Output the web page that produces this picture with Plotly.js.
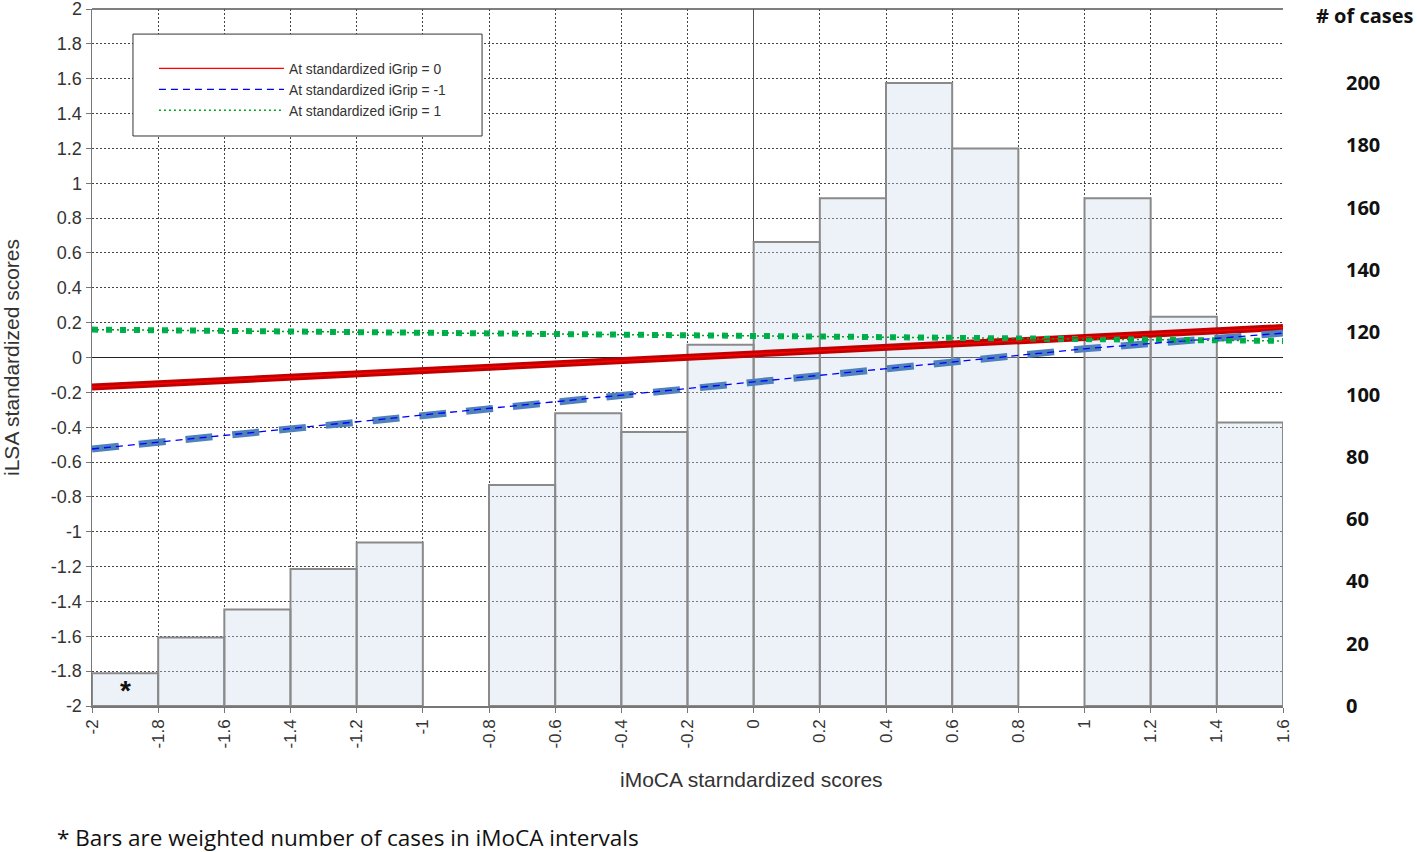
<!DOCTYPE html>
<html>
<head>
<meta charset="utf-8">
<script src="https://cdn.plot.ly/plotly-3.0.1.min.js"></script>
<style>
html,body{margin:0;padding:0;background:#fff;}
#chart{width:1417px;height:852px;}
</style>
</head>
<body>
<div id="chart"></div>
<script>
// Histogram: iMoCA intervals (bin centres) and weighted number of cases
const binCenters = [-1.9,-1.7,-1.5,-1.3,-1.1,-0.9,-0.7,-0.5,-0.3,-0.1,0.1,0.3,0.5,0.7,0.9,1.1,1.3,1.5];
const binCases   = [10.5,22,31,44,52.5,null,71,94,88,116,149,163,200,179,null,163,125,91];

// Predicted iLSA standardized scores along iMoCA
const lineX      = [-2,-1,0,1,1.6];
const grip0      = [-0.17,-0.075,0.02,0.115,0.172];
const gripMinus1 = [-0.525,-0.33,-0.14,0.05,0.14];
const gripPlus1  = [0.16,0.142,0.124,0.106,0.095];

const legendNames = ['At standardized iGrip = 0','At standardized iGrip = -1','At standardized iGrip = 1'];
const xTicks = [-2,-1.8,-1.6,-1.4,-1.2,-1,-0.8,-0.6,-0.4,-0.2,0,0.2,0.4,0.6,0.8,1,1.2,1.4,1.6];
const leftTicks = [-2,-1.8,-1.6,-1.4,-1.2,-1,-0.8,-0.6,-0.4,-0.2,0,0.2,0.4,0.6,0.8,1,1.2,1.4,1.6,1.8,2];
const rightTicks = [0,20,40,60,80,100,120,140,160,180,200];

const traces = [
  {type:'bar', x:binCenters, y:binCases, width:0.2, xaxis:'x', yaxis:'y',
   marker:{color:'rgba(205,220,236,0.36)', line:{color:'#8a8a8a', width:2}},
   showlegend:false, hoverinfo:'skip'},
  // thick lines
  {type:'scatter', mode:'lines', x:lineX, y:grip0, yaxis:'y2', showlegend:false,
   line:{color:'#c00000', width:7}},
  {type:'scatter', mode:'lines', x:lineX, y:gripMinus1, yaxis:'y2', showlegend:false,
   line:{color:'#4f81bd', width:7, dash:'27px,20px'}},
  {type:'scatter', mode:'lines', x:lineX, y:gripPlus1, yaxis:'y2', showlegend:false,
   line:{color:'#00b050', width:6, dash:'6px,8px'}},
  // thin lines (legend)
  {type:'scatter', mode:'lines', x:lineX, y:grip0, yaxis:'y2', name:legendNames[0],
   line:{color:'#ff0000', width:1.3}},
  {type:'scatter', mode:'lines', x:lineX, y:gripMinus1, yaxis:'y2', name:legendNames[1],
   line:{color:'#0000ff', width:1.3, dash:'7px,5px'}},
  {type:'scatter', mode:'lines', x:lineX, y:gripPlus1, yaxis:'y2', name:legendNames[2],
   line:{color:'#00a020', width:1.5, dash:'2px,3px'}}
];

const axFont = {family:'Liberation Sans, Arial, sans-serif', size:17, color:'#333'};
const yFont = {family:'Liberation Sans, Arial, sans-serif', size:18, color:'#333'};

const layout = {
  width:1417, height:852,
  margin:{l:92, r:134, t:9, b:146},
  paper_bgcolor:'#fff', plot_bgcolor:'#fff',
  showlegend:true,
  bargap:0,
  legend:{x:0.052, y:0.937, xanchor:'left', yanchor:'top', bgcolor:'rgba(0,0,0,0)',
    borderwidth:0, itemwidth:125, tracegroupgap:0,
    font:{family:'Liberation Sans, Arial, sans-serif', size:13.8, color:'#333'}},
  xaxis:{range:[-2,1.6], tickvals:xTicks, ticktext:xTicks.map(String), tickangle:-90,
    tickfont:axFont, showgrid:true, gridcolor:'#444', griddash:'2px,2px', gridwidth:1,
    zeroline:true, zerolinecolor:'#555', zerolinewidth:1.3, ticklabeloverflow:'allow',
    showline:true, linecolor:'#777', linewidth:1.5, ticks:'outside', ticklen:5, tickcolor:'#777',
    fixedrange:true},
  yaxis:{range:[0,223.8], side:'right', tickvals:rightTicks, ticktext:rightTicks.map(String),
    showgrid:false, zeroline:false, showline:false, ticks:'', ticklabelstandoff:62,
    tickfont:{family:'Open Sans, Noto Sans, sans-serif', size:20, color:'#111', weight:'bold'},
    fixedrange:true},
  yaxis2:{range:[-2,2], overlaying:'y', side:'left', anchor:'x',
    tickvals:leftTicks, ticktext:leftTicks.map(String), tickfont:yFont, ticklabeloverflow:'allow',
    showgrid:true, gridcolor:'#444', griddash:'2px,2px', gridwidth:1,
    zeroline:true, zerolinecolor:'#222', zerolinewidth:1,
    showline:true, linecolor:'#777', linewidth:1.5, ticks:'outside', ticklen:5, tickcolor:'#777',
    title:{text:'iLSA standardized scores', font:{family:'Liberation Sans, Arial, sans-serif', size:21, color:'#333'}, standoff:26},
    fixedrange:true},
  shapes:[
    {type:'line', xref:'paper', yref:'paper', x0:0, x1:1, y0:1, y1:1, line:{color:'#555', width:1.5}},
    {type:'rect', xref:'paper', yref:'paper', x0:0.0344, x1:0.3275, y0:0.8178, y1:0.964,
     fillcolor:'#fff', line:{color:'#333', width:1}, layer:'above'}
  ],
  annotations:[
    {xref:'paper', yref:'paper', x:0.554, y:-0.105, text:'iMoCA starndardized scores', showarrow:false,
     xanchor:'center', yanchor:'middle', font:{family:'Liberation Sans, Arial, sans-serif', size:21, color:'#333'}},
    {xref:'paper', yref:'paper', x:-0.031, y:-0.189, text:'* Bars are weighted number of cases in iMoCA intervals', showarrow:false,
     xanchor:'left', yanchor:'middle', font:{family:'Open Sans, Noto Sans, sans-serif', size:22.5, color:'#111'}},
    {xref:'paper', yref:'paper', x:1.069, y:0.99, text:'<b># of cases</b>', showarrow:false,
     xanchor:'center', yanchor:'middle', font:{family:'Open Sans, Noto Sans, sans-serif', size:20, color:'#111'}},
    {xref:'x', yref:'y2', x:-1.9, y:-1.91, text:'<b>*</b>', showarrow:false,
     xanchor:'center', yanchor:'middle', font:{family:'Liberation Sans, Arial, sans-serif', size:28, color:'#111'}}
  ]
};

Plotly.newPlot('chart', traces, layout, {displayModeBar:false, staticPlot:true});
</script>
</body>
</html>
